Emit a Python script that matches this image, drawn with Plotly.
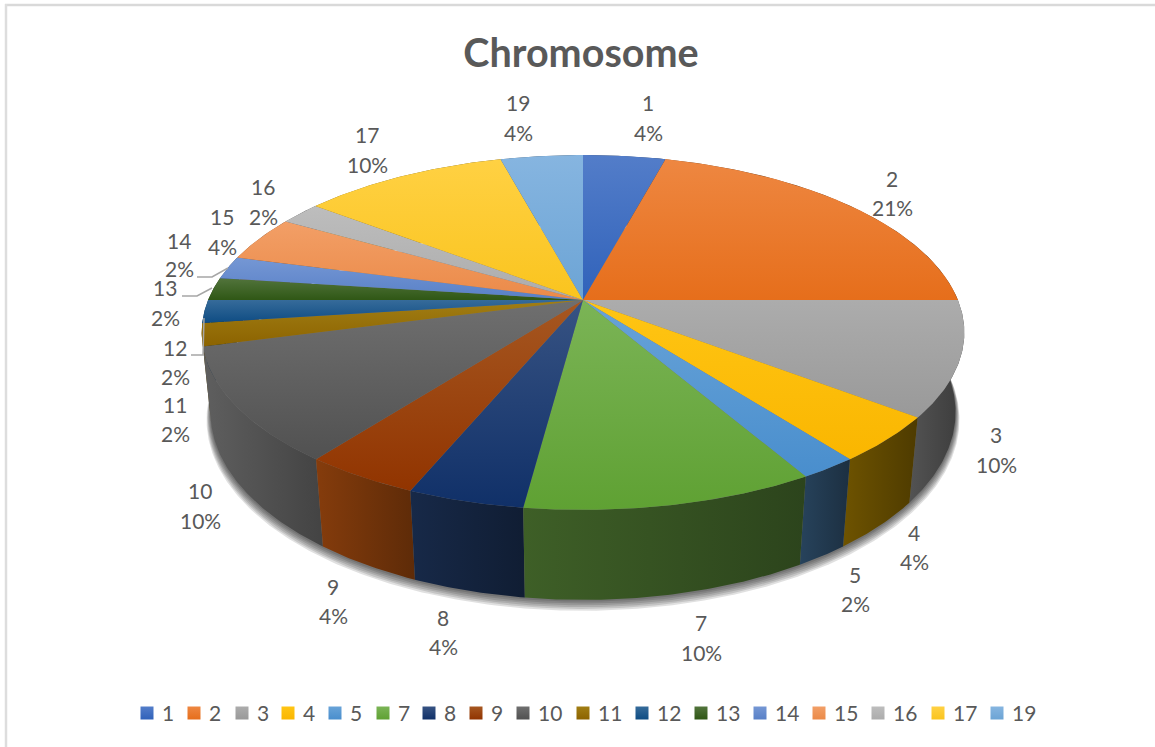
import math
import plotly.graph_objects as go

# Chromosome counts behind each slice
chromosomes = ["1", "2", "3", "4", "5", "7", "8", "9", "10", "11", "12", "13", "14", "15", "16", "17", "19"]
counts = [2, 10, 5, 2, 1, 5, 2, 2, 5, 1, 1, 1, 1, 2, 1, 5, 2]
colors = ["#4472C4", "#ED7D31", "#A5A5A5", "#FFC000", "#5B9BD5", "#70AD47", "#264478", "#9E480E",
          "#636363", "#997300", "#255E91", "#43682B", "#698ED0", "#F1975A", "#B7B7B7", "#FFCD33", "#7CAFDD"]
wall_shade = [.45, .45, .42, .36, .36, .46, .5, .7, .8, .5, .5, .5, .45, .45, .45, .45, .45]

# Label centres: x, y of name line, y of percent line
label_pos = [(648, 102, 132), (892, 178, 207), (996, 434, 464), (914, 532, 561), (855, 574, 603),
             (701, 622, 652), (443, 617, 646), (333, 586, 615), (200, 490, 520), (175, 404, 433),
             (175, 347, 376), (165, 287, 317), (179, 240, 268), (222, 216, 246), (263, 186, 216),
             (367, 134, 164), (518, 102, 132)]

# Legend swatch centres
legend_x = [147, 194, 242, 288, 335, 383, 429, 476, 523, 583, 642, 701, 760, 819, 878, 938, 997]

# Leader lines for the crowded labels on the left
leaders = [([197, 212, 228], [277, 277, 268]), ([182, 197, 212], [296, 296, 288]),
           ([191, 203, 204], [355, 355, 318])]

WIDTH, HEIGHT = 1155, 747
CX, CY, FOCAL, DIST = 583, 300, 1822, 4.86
SIN_E, COS_E = 0.4575, 0.889
THICK = 0.241
TEXT = "#595959"
FONT = "Lato"


def project(theta, radius=1.0, z=0.0):
    """Perspective projection of a pie point; theta runs clockwise from the back."""
    px, py = radius * math.sin(theta), -radius * math.cos(theta)
    depth = DIST - py * COS_E - z * SIN_E
    up = -py * SIN_E + z * COS_E
    return CX + FOCAL * px / depth, CY - FOCAL * up / depth


def arc(a0, a1, radius=1.0, z=0.0):
    n = max(3, int(abs(a1 - a0) / 0.01))
    pts = [project(a0 + (a1 - a0) * i / n, radius, z) for i in range(n + 1)]
    return [p[0] for p in pts], [p[1] for p in pts]


def channels(color):
    return [int(color[i:i + 2], 16) for i in (1, 3, 5)]


def lighter(color, amount=0.08):
    return "rgb({},{},{})".format(*[round(c + (255 - c) * amount) for c in channels(color)])


def deeper(color):
    """Darker and more saturated shade for the near edge of a face."""
    return "rgb({},{},{})".format(*[max(0, round(c * 0.98 - (255 - c) * 0.1)) for c in channels(color)])


def scaled(color, factor):
    return "rgb({},{},{})".format(*[min(255, round(c * factor)) for c in channels(color)])


total = sum(counts)
edges = [0.0]
for c in counts:
    edges.append(edges[-1] + c / total * 2 * math.pi)

fig = go.Figure()

# Soft shadow under the lower rim
for i in range(6):
    xs, ys = arc(0, 2 * math.pi, 1.0 + 0.002 * (6 - i), -THICK - 0.0035 * (6 - i))
    fig.add_trace(go.Scatter(x=xs, y=ys, mode="lines", fill="toself", line=dict(width=0),
                             fillcolor="rgba(0,0,0,0.12)", hoverinfo="skip", showlegend=False))

# Outer walls, painted from the sides towards the front
order = sorted(range(len(counts)), key=lambda k: -math.cos((edges[k] + edges[k + 1]) / 2))
for k in order:
    x0, y0 = arc(edges[k], edges[k + 1])
    x1, y1 = arc(edges[k + 1], edges[k], 1.0, -THICK)
    f = wall_shade[k]
    fig.add_trace(go.Scatter(
        x=x0 + x1, y=y0 + y1, mode="lines", fill="toself", line=dict(width=0),
        fillgradient=dict(type="horizontal",
                          colorscale=[[0, scaled(colors[k], f * 1.2)], [1, scaled(colors[k], f * 0.85)]]),
        hoverinfo="skip", showlegend=False))

# Top faces; the y axis is reversed, so the colorscale runs from the lower edge up
for k, name in enumerate(chromosomes):
    xs, ys = arc(edges[k], edges[k + 1])
    xs, ys = [CX] + xs + [CX], [CY] + ys + [CY]
    fig.add_trace(go.Scatter(
        x=xs, y=ys, mode="lines", fill="toself", line=dict(width=0), name=name,
        fillgradient=dict(type="vertical",
                          colorscale=[[0, deeper(colors[k])], [1, lighter(colors[k])]]),
        showlegend=False))

# Leader lines
for lx, ly in leaders:
    fig.add_trace(go.Scatter(x=lx, y=ly, mode="lines", line=dict(color="#A6A6A6", width=1.5),
                             hoverinfo="skip", showlegend=False))

# Data labels
for k, name in enumerate(chromosomes):
    lx, ly1, ly2 = label_pos[k]
    pct = f"{round(counts[k] / total * 100)}%"
    for text, ly in ((name, ly1), (pct, ly2)):
        fig.add_annotation(x=lx, y=ly, text=text, showarrow=False, xanchor="center", yanchor="middle",
                           font=dict(family=FONT, size=21, color=TEXT))

# Legend row along the bottom
for k, name in enumerate(chromosomes):
    fig.add_trace(go.Scatter(
        x=[legend_x[k]], y=[713], mode="markers",
        marker=dict(symbol="square", size=13, color=lighter(colors[k]), line=dict(width=0),
                    gradient=dict(type="vertical", color=deeper(colors[k]))),
        hoverinfo="skip", showlegend=False))
    fig.add_annotation(x=legend_x[k] + 12.5, y=712, text=name, showarrow=False, xanchor="left", yanchor="middle",
                       font=dict(family=FONT, size=21, color=TEXT))

# Chart frame: only the top and left edges are drawn
frame = [dict(type="line", xref="x", yref="y", x0=5, y0=5, x1=1155, y1=5, line=dict(color="#D9D9D9", width=2.5)),
         dict(type="line", xref="x", yref="y", x0=6, y0=4, x1=6, y1=747, line=dict(color="#DDDDDD", width=2.5))]

fig.update_layout(
    width=WIDTH, height=HEIGHT, margin=dict(l=0, r=0, t=0, b=0),
    paper_bgcolor="white", plot_bgcolor="white", showlegend=False,
    title=dict(text="<b>Chromosome</b>", x=581 / WIDTH, xanchor="center", y=1 - 53 / HEIGHT, yanchor="middle",
               font=dict(family=FONT, size=39.5, color=TEXT)),
    xaxis=dict(range=[0, WIDTH], visible=False, fixedrange=True),
    yaxis=dict(range=[HEIGHT, 0], visible=False, fixedrange=True),
    shapes=frame,
)

fig.write_html("out.html", config=dict(displayModeBar=False))
